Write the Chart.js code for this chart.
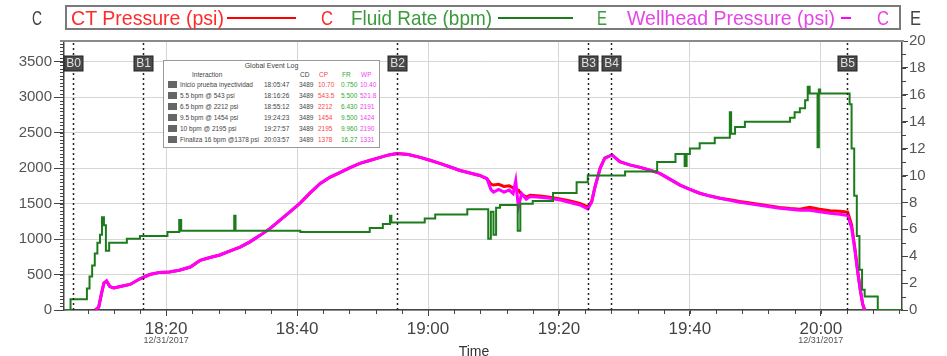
<!DOCTYPE html>
<html>
<head>
<meta charset="utf-8">
<script src="https://cdn.jsdelivr.net/npm/chart.js@4.4.1/dist/chart.umd.min.js"></script>
<style>
  body { margin: 0; background: #fff; font-family: "Liberation Sans", Arial, sans-serif; }
  #wrap { position: relative; width: 947px; height: 356px; overflow: hidden; }
  #c { position: absolute; left: 0; top: 0; }
  #lgbox { position: absolute; left: 65px; top: 5px; width: 832px; height: 21px; border: 2px solid #7a7a7a; }
  .lg { position: absolute; top: 7px; font-size: 21px; line-height: 22px; white-space: nowrap; transform-origin: left center; }
  .sw { position: absolute; top: 17px; height: 2px; }
  #log { position: absolute; left: 163px; top: 60px; width: 215px; height: 86px; border: 1px solid #999;
         background: #fff; color: #444; font-size: 6.5px; line-height: 8px; }
  #log span { position: absolute; white-space: nowrap; }
  #log .ic { width: 9px; height: 7px; background: #666; }
</style>
</head>
<body>
<div id="wrap">
  <canvas id="c" width="947" height="356"></canvas>
  <div id="lgbox"></div>
  <div class="lg" data-l="32" data-r="42" style="color:#444">C</div>
  <div class="lg" data-l="71" data-r="224" style="color:#ff2b2b">CT Pressure (psi)</div>
  <div class="sw" style="left:227px;width:69px;background:#ff0000"></div>
  <div class="lg" data-l="321" data-r="333" style="color:#ff2b2b">C</div>
  <div class="lg" data-l="351" data-r="492" style="color:#3b9a3b">Fluid Rate (bpm)</div>
  <div class="sw" style="left:498px;width:75px;background:#1c7c1c"></div>
  <div class="lg" data-l="597" data-r="607" style="color:#3b9a3b">E</div>
  <div class="lg" data-l="627" data-r="835" style="color:#e645e6">Wellhead Pressure (psi)</div>
  <div class="sw" style="left:841px;width:10px;background:#ff00ff"></div>
  <div class="lg" data-l="877" data-r="889" style="color:#e645e6">C</div>
  <div class="lg" data-l="910" data-r="921" style="color:#444">E</div>
  <div id="log"></div>
</div>
<script>
// time helpers: values on the x axis are minutes after 18:00
const toMin = s => { const [h, m, sec = 0] = s.split(':').map(Number); return (h - 18) * 60 + m + sec / 60; };

const timeRange = ['18:04:24', '20:12:24'];
const timeTicks = ['18:20', '18:40', '19:00', '19:20', '19:40', '20:00'];
const dateTicks = ['18:20', '20:00'];
const dateLabel = '12/31/2017';
const psiTicks = [0, 500, 1000, 1500, 2000, 2500, 3000, 3500];
const rateTicks = [0, 2, 4, 6, 8, 10, 12, 14, 16, 18, 20];

// Fluid Rate (bpm), right axis, minutes after 18:00
const rateTime = [4.4, 5.4, 7.9, 8.3, 8.7, 9.1, 9.5, 9.9, 10.2, 10.5, 10.8, 11.3, 14.0, 16.0, 20.2, 22.0, 22.3,
  30.4, 30.6, 40.5, 51.1, 53.1, 54.2, 54.4, 59.5, 61.1, 66.0, 69.2, 69.6, 70.0, 70.4, 71.0, 73.7, 74.1, 76.0,
  79.1, 82.7, 84.4, 90.1, 95.0, 97.8, 99.2, 99.5, 100.0, 101.5, 103.8, 106.1, 106.3, 106.9, 108.4, 115.3, 116.0,
  116.8, 117.6, 118.0, 118.3, 119.5, 119.7, 119.9, 124.4, 124.7, 125.1, 125.5, 125.9, 126.3, 126.7, 128.7, 132.4];
const fluidRate = [0, 0.8, 1.6, 2.5, 3.3, 4.2, 5.0, 5.6, 6.9, 6.3, 4.4, 5.0, 5.3, 5.5, 5.8, 6.7, 5.9,
  7.0, 5.9, 5.8, 6.1, 6.4, 7.0, 6.5, 6.8, 7.1, 7.5, 5.3, 7.3, 5.6, 7.6, 7.8, 5.9, 7.9, 8.1,
  8.7, 9.5, 10.0, 10.3, 11.0, 11.6, 10.7, 11.6, 12.0, 12.4, 12.8, 14.7, 13.1, 13.6, 14.0, 14.3, 14.7,
  15.0, 15.6, 16.6, 16.1, 12.1, 16.4, 16.1, 15.3, 12.0, 8.5, 5.5, 3.0, 1.5, 1.0, 0, 0];

// CT and Wellhead Pressure (psi), left axis
const pressureTime = [9.2, 9.7, 10.1, 10.5, 10.9, 11.4, 12.0, 13.0, 14.5, 16.0,
  17.5, 19.0, 20.5, 22.0, 23.7, 25.2, 26.7, 28.2, 29.7, 31.3,
  32.8, 34.4, 35.9, 37.4, 39.0, 40.5, 42.0, 43.5, 45.0, 46.6,
  48.1, 49.6, 51.2, 52.7, 54.0, 55.3, 57.0, 58.8, 60.3, 61.8,
  63.4, 64.9, 66.4, 67.9, 69.0, 69.6, 70.0, 70.8, 71.6, 72.4,
  73.0, 73.4, 73.8, 74.3, 75.0, 75.6, 77.1, 78.6, 80.2, 81.7,
  83.2, 84.4, 85.0, 85.5, 86.3, 87.0, 88.1, 89.3, 90.8, 92.4,
  93.9, 95.4, 97.0, 98.5, 100.0, 101.5, 103.1, 104.6, 106.1, 107.6,
  109.2, 110.7, 112.2, 113.7, 115.3, 116.8, 118.3, 119.8, 121.4, 122.9,
  124.1, 124.7, 125.2, 125.6, 126.0, 126.4, 126.7];
const whPressure = [0, 40, 220, 380, 410, 330, 310, 330, 360, 440,
  500, 530, 535, 560, 605, 700, 740, 775, 830, 885,
  960, 1055, 1150, 1265, 1390, 1510, 1650, 1780, 1870, 1940,
  2005, 2065, 2110, 2150, 2185, 2205, 2190, 2150, 2110, 2065,
  2015, 1965, 1930, 1895, 1850, 1700, 1660, 1700, 1660, 1690,
  1640, 1820, 1450, 1640, 1560, 1600, 1590, 1575, 1550, 1515,
  1480, 1424, 1520, 1730, 2000, 2140, 2185, 2090, 2045, 2010,
  1970, 1925, 1840, 1760, 1700, 1645, 1605, 1575, 1545, 1518,
  1495, 1476, 1455, 1434, 1418, 1406, 1404, 1385, 1364, 1350,
  1331, 1160, 850, 560, 300, 80, 0];
const ctPressure = [0, 40, 220, 380, 410, 330, 310, 330, 360, 440,
  500, 530, 535, 560, 605, 700, 740, 775, 830, 885,
  960, 1055, 1150, 1265, 1390, 1510, 1650, 1780, 1870, 1940,
  2005, 2065, 2110, 2150, 2185, 2205, 2190, 2150, 2110, 2065,
  2015, 1965, 1930, 1895, 1850, 1775, 1760, 1770, 1740, 1750,
  1720, 1700, 1690, 1630, 1590, 1615, 1605, 1590, 1565, 1535,
  1500, 1454, 1530, 1730, 2000, 2140, 2185, 2090, 2045, 2010,
  1970, 1925, 1840, 1760, 1700, 1645, 1605, 1575, 1555, 1530,
  1507, 1488, 1467, 1446, 1430, 1420, 1448, 1420, 1400, 1390,
  1378, 1200, 870, 570, 300, 80, 0];

// Global Event Log
const eventNames = ['B0', 'B1', 'B2', 'B3', 'B4', 'B5'];
const eventNotes = ['Inicio prueba inyectividad', '5.5 bpm @ 543 psi', '6.5 bpm @ 2212 psi',
  '9.5 bpm @ 1454 psi', '10 bpm @ 2195 psi', 'Finaliza 16 bpm @1378 psi'];
const eventTimes = ['18:05:47', '18:16:26', '18:55:12', '19:24:23', '19:27:57', '20:03:57'];
const eventCD = ['3489', '3489', '3489', '3489', '3489', '3489'];
const eventCP = ['10.70', '543.5', '2212', '1454', '2195', '1378'];
const eventFR = ['0.750', '5.500', '6.430', '9.500', '9.960', '16.27'];
const eventWP = ['10.40', '521.8', '2191', '1424', '2190', '1331'];

// squeeze legend texts into the spans they take in the picture
document.querySelectorAll('.lg').forEach(el => {
  const l = +el.dataset.l, r = +el.dataset.r;
  const w = el.getBoundingClientRect().width;
  el.style.left = l + 'px';
  el.style.transform = `scaleX(${(r - l) / w})`;
});

// build the log box
(function () {
  let h = '<span style="left:0;width:215px;text-align:center;top:1px;font-size:7px">Global Event Log</span>';
  h += '<span style="left:28px;top:10px">Interaction</span><span style="left:136px;top:10px">CD</span>' +
       '<span style="left:155px;top:10px;color:#f44">CP</span><span style="left:178px;top:10px;color:#3a3">FR</span>' +
       '<span style="left:197px;top:10px;color:#e4e">WP</span>';
  eventNames.forEach((n, i) => {
    const t = 20 + i * 11;
    h += `<span class="ic" style="left:4px;top:${t}px"></span>` +
         `<span style="left:16px;top:${t}px">${eventNotes[i]}</span>` +
         `<span style="left:100px;top:${t}px">${eventTimes[i]}</span>` +
         `<span style="left:135px;top:${t}px">${eventCD[i]}</span>` +
         `<span style="left:154px;top:${t}px;color:#f44">${eventCP[i]}</span>` +
         `<span style="left:177px;top:${t}px;color:#3a3">${eventFR[i]}</span>` +
         `<span style="left:196px;top:${t}px;color:#e4e">${eventWP[i]}</span>`;
  });
  document.getElementById('log').innerHTML = h;
})();

const sans = '"Liberation Sans", Arial, sans-serif';

// minor ticks, frame top, event markers, dates and axis title
const extras = {
  id: 'extras',
  afterDatasetsDraw(chart) {
    const { ctx, chartArea: a, scales: { x, y, y1 } } = chart;
    ctx.save();
    ctx.strokeStyle = '#444';
    ctx.lineWidth = 1;
    ctx.beginPath();
    for (let v = 0; v <= 3750; v += 50) {
      const py = Math.round(y.getPixelForValue(v)) + 0.5;
      ctx.moveTo(a.left - 4, py); ctx.lineTo(a.left, py);
    }
    for (let v = 0; v <= 20; v += 1) {
      const py = Math.round(y1.getPixelForValue(v)) + 0.5;
      ctx.moveTo(a.right, py); ctx.lineTo(a.right + 4, py);
    }
    for (let v = 8; v < x.max; v += 4) {
      const px = Math.round(x.getPixelForValue(v)) + 0.5;
      ctx.moveTo(px, a.bottom); ctx.lineTo(px, a.bottom + 4);
    }
    ctx.stroke();

    // top frame
    ctx.strokeStyle = '#8a8a8a';
    ctx.lineWidth = 2;
    ctx.beginPath();
    ctx.moveTo(a.left - 4, a.top); ctx.lineTo(a.right + 2, a.top);
    ctx.stroke();

    // event markers
    eventTimes.forEach((t, i) => {
      const px = Math.round(x.getPixelForValue(toMin(t))) + 0.5;
      ctx.strokeStyle = '#222';
      ctx.lineWidth = 1.5;
      ctx.setLineDash([2, 3]);
      ctx.beginPath();
      ctx.moveTo(px, a.top + 2); ctx.lineTo(px, a.bottom);
      ctx.stroke();
      ctx.setLineDash([]);
      ctx.fillStyle = '#4a4a4a';
      ctx.fillRect(px - 9.5, 56, 19, 15);
      ctx.strokeStyle = '#222';
      ctx.lineWidth = 1;
      ctx.strokeRect(px - 9.5, 56, 19, 15);
      ctx.fillStyle = '#e0e0e0';
      ctx.font = '12px ' + sans;
      ctx.textAlign = 'center';
      ctx.textBaseline = 'middle';
      ctx.fillText(eventNames[i], px, 64);
    });
    ctx.restore();
  },
  afterDraw(chart) {
    const { ctx, chartArea: a, scales: { x } } = chart;
    ctx.save();
    ctx.fillStyle = '#555';
    ctx.textAlign = 'center';
    ctx.textBaseline = 'middle';
    ctx.font = '9px ' + sans;
    dateTicks.forEach(t => ctx.fillText(dateLabel, x.getPixelForValue(toMin(t)), 341));
    ctx.fillStyle = '#333';
    ctx.font = '14px ' + sans;
    ctx.fillText('Time', (a.left + a.right) / 2 - 9, 352);
    ctx.restore();
  }
};

const pts = (xs, ys) => xs.map((t, i) => ({ x: t, y: ys[i] }));

new Chart(document.getElementById('c'), {
  type: 'line',
  data: {
    datasets: [
      { label: 'CT Pressure (psi)', data: pts(pressureTime, ctPressure), yAxisID: 'y',
        borderColor: '#ff0000', borderWidth: 3, pointRadius: 0, order: 2 },
      { label: 'Fluid Rate (bpm)', data: pts(rateTime, fluidRate), yAxisID: 'y1', stepped: true,
        borderColor: '#1c7c1c', borderWidth: 2, pointRadius: 0, order: 0 },
      { label: 'Wellhead Pressure (psi)', data: pts(pressureTime, whPressure), yAxisID: 'y',
        borderColor: '#ff00ff', borderWidth: 3, pointRadius: 0, order: 1 }
    ]
  },
  options: {
    responsive: false,
    animation: false,
    layout: { padding: { top: 41 } },
    plugins: { legend: { display: false }, tooltip: { enabled: false } },
    scales: {
      x: {
        type: 'linear',
        min: toMin(timeRange[0]),
        max: toMin(timeRange[1]),
        afterFit: s => { s.height = 46; },
        afterBuildTicks: s => { s.ticks = timeTicks.map(t => ({ value: toMin(t) })); },
        ticks: {
          callback: (v, i) => timeTicks[i],
          color: '#444', font: { family: sans, size: 17 }, padding: 3,
          maxRotation: 0, autoSkip: false
        },
        grid: { color: '#d6d6d6', tickColor: '#444', tickLength: 6 },
        border: { color: '#444', width: 1.5 }
      },
      y: {
        position: 'left', min: 0, max: 3790,
        afterFit: s => { s.width = 64; },
        afterBuildTicks: s => { s.ticks = psiTicks.map(v => ({ value: v })); },
        ticks: { callback: v => String(v), color: '#555', font: { family: sans, size: 15 }, padding: 2 },
        grid: { color: '#d6d6d6', tickColor: '#444', tickLength: 10 },
        border: { color: '#444', width: 1.5 }
      },
      y1: {
        position: 'right', min: 0, max: 20,
        afterFit: s => { s.width = 45; },
        afterBuildTicks: s => { s.ticks = rateTicks.map(v => ({ value: v })); },
        ticks: { callback: v => String(v), color: '#555', font: { family: sans, size: 15 }, padding: 1 },
        grid: { drawOnChartArea: false, tickColor: '#444', tickLength: 6 },
        border: { color: '#444', width: 1.5 }
      }
    }
  },
  plugins: [extras]
});
</script>
</body>
</html>
